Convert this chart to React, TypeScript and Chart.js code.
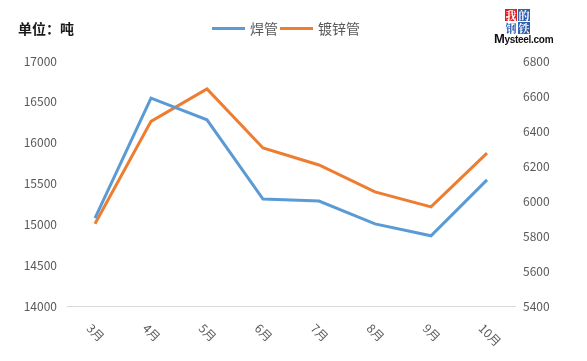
import React, { useEffect, useRef } from "react";
import { Chart, registerables } from "chart.js";

Chart.register(...registerables);

const categories = ["3月", "4月", "5月", "6月", "7月", "8月", "9月", "10月"];
const weldedPipe = [15075, 16545, 16280, 15310, 15285, 15005, 14860, 15545];
const galvanizedPipe = [5870, 6455, 6640, 6303, 6206, 6052, 5966, 6274];
const leftTicks = [14000, 14500, 15000, 15500, 16000, 16500, 17000];
const rightTicks = [5400, 5600, 5800, 6000, 6200, 6400, 6600, 6800];
const seriesNames = ["焊管", "镀锌管"];
const unitLabel = "单位：吨";

const BLUE = "#5B9BD5";
const ORANGE = "#ED7D31";
const TEXT = "#595959";
const FONT = "'Noto Sans CJK SC', 'Microsoft YaHei', sans-serif";

const xLabelPlugin = {
  id: "xLabelPlugin",
  afterDraw(chart: any) {
    const ctx = chart.ctx;
    const xs = chart.scales.x;
    ctx.save();
    ctx.fillStyle = TEXT;
    ctx.font = `12px ${FONT}`;
    ctx.textAlign = "left";
    ctx.textBaseline = "middle";
    categories.forEach((c, i) => {
      const px = xs.getPixelForValue(i);
      ctx.save();
      ctx.translate(px - 6, xs.top + 20);
      ctx.rotate(Math.PI / 4);
      ctx.fillText(c, 0, 0);
      ctx.restore();
    });
    ctx.restore();
  },
};

export default function App() {
  const ref = useRef<HTMLCanvasElement>(null);
  useEffect(() => {
    if (!ref.current) return;
    const chart = new Chart(ref.current, {
      type: "line",
      data: {
        labels: categories,
        datasets: [
          {
            label: seriesNames[0],
            data: weldedPipe,
            borderColor: BLUE,
            backgroundColor: BLUE,
            borderWidth: 3,
            pointRadius: 0,
            tension: 0,
            yAxisID: "y",
          },
          {
            label: seriesNames[1],
            data: galvanizedPipe,
            borderColor: ORANGE,
            backgroundColor: ORANGE,
            borderWidth: 3,
            pointRadius: 0,
            tension: 0,
            yAxisID: "y1",
          },
        ],
      },
      options: {
        animation: false,
        responsive: false,
        maintainAspectRatio: false,
        layout: { padding: { top: 61, left: 0, right: 0, bottom: 0 } },
        plugins: {
          legend: { display: false },
          tooltip: { enabled: false },
        },
        scales: {
          x: {
            offset: true,
            grid: { display: false, drawTicks: false },
            border: { display: true, color: "#D9D9D9", width: 1 },
            ticks: { display: false },
            afterFit(scale: any) {
              scale.height = 55;
            },
          },
          y: {
            position: "left",
            min: 14000,
            max: 17000,
            afterBuildTicks(scale: any) {
              scale.ticks = leftTicks.map((v) => ({ value: v }));
            },
            grid: { display: false, drawTicks: false },
            border: { display: false },
            ticks: {
              color: TEXT,
              font: { size: 12, family: FONT },
              padding: 10,
              callback: (v: any) => String(v),
            },
            afterFit(scale: any) {
              scale.width = 67;
            },
          },
          y1: {
            position: "right",
            min: 5400,
            max: 6800,
            afterBuildTicks(scale: any) {
              scale.ticks = rightTicks.map((v) => ({ value: v }));
            },
            grid: { display: false, drawTicks: false },
            border: { display: false },
            ticks: {
              color: TEXT,
              font: { size: 12, family: FONT },
              padding: 8,
              callback: (v: any) => String(v),
            },
            afterFit(scale: any) {
              scale.width = 72;
            },
          },
        },
      },
      plugins: [xLabelPlugin],
    });
    return () => chart.destroy();
  }, []);

  const legendItem = (color: string, name: string, left: number) => (
    <div
      style={{
        position: "absolute",
        left,
        top: 19,
        display: "flex",
        alignItems: "center",
        height: 18,
      }}
    >
      <div style={{ width: 33, height: 3, background: color, marginRight: 5 }} />
      <span style={{ fontSize: 14, color: TEXT, fontFamily: FONT, lineHeight: "18px" }}>{name}</span>
    </div>
  );

  const box = (ch: string, bg: string, fg: string, l: number, t: number) => (
    <div
      style={{
        position: "absolute",
        left: l,
        top: t,
        width: 12,
        height: 12,
        background: bg,
        color: fg,
        fontSize: 11,
        lineHeight: "12px",
        textAlign: "center",
        fontFamily: "'Noto Serif CJK SC', 'Noto Sans CJK SC', serif",
        fontWeight: "bold",
      }}
    >
      {ch}
    </div>
  );

  return (
    <div
      style={{
        position: "absolute",
        left: 0,
        top: 0,
        width: 587,
        height: 361,
        background: "#fff",
        overflow: "hidden",
      }}
    >
      <canvas ref={ref} width={587} height={361} style={{ position: "absolute", left: 0, top: 0 }} />
      <div
        style={{
          position: "absolute",
          left: 18,
          top: 19,
          fontSize: 14,
          fontWeight: "bold",
          color: "#1a1a1a",
          fontFamily: FONT,
          lineHeight: "18px",
        }}
      >
        {unitLabel}
      </div>
      {legendItem(BLUE, seriesNames[0], 212)}
      {legendItem(ORANGE, seriesNames[1], 280)}
      {box("我", "#E02020", "#fff", 505, 9)}
      {box("的", "#2F5FB0", "#fff", 518, 9)}
      {box("钢", "#fff", "#2F5FB0", 505, 22)}
      {box("铁", "#2F5FB0", "#fff", 518, 22)}
      <div
        style={{
          position: "absolute",
          left: 494,
          top: 33,
          fontFamily: "'Liberation Sans', Arial, sans-serif",
          fontWeight: "bold",
          color: "#111",
          fontSize: 10,
          lineHeight: "12px",
          letterSpacing: -0.3,
        }}
      >
        <span style={{ fontSize: 13 }}>M</span>ysteel.com
      </div>
    </div>
  );
}
